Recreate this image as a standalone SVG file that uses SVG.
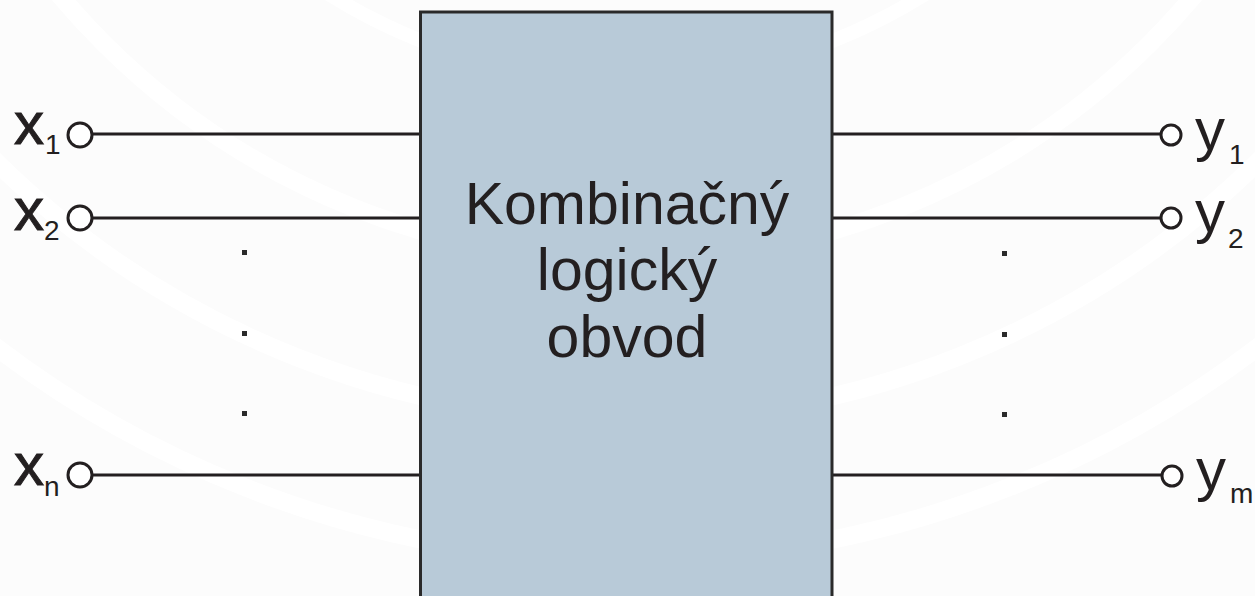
<svg xmlns="http://www.w3.org/2000/svg" width="1255" height="596" viewBox="0 0 1255 596">
<style>
.lbl{font-family:"Liberation Sans",Arial,sans-serif;fill:#231f20}
.main{font-size:59px;text-anchor:middle}
.var{font-size:60px}
.xv{stroke:#231f20;stroke-width:1}
.sub{font-size:28px}
.wire{stroke:#231f20;stroke-width:3;fill:none}
.term{stroke:#231f20;stroke-width:3;fill:#ffffff}
.dot{fill:#2a2a2a}
.bg{fill:none;stroke:#ffffff}
</style>
<rect x="0" y="0" width="1255" height="596" fill="#fcfcfc"/>
<g id="background">
<circle class="bg" cx="627" cy="-480" r="560" stroke-width="14"/>
<circle class="bg" cx="627" cy="-480" r="740" stroke-width="18"/>
<circle class="bg" cx="627" cy="-480" r="900" stroke-width="18"/>
<circle class="bg" cx="627" cy="-480" r="1040" stroke-width="18"/>
</g>
<g id="connectors">
<line class="wire" x1="93" y1="134" x2="420" y2="134"/>
<line class="wire" x1="93" y1="218" x2="420" y2="218"/>
<line class="wire" x1="93" y1="475" x2="420" y2="475"/>
<line class="wire" x1="833" y1="134" x2="1161" y2="134"/>
<line class="wire" x1="833" y1="218" x2="1161" y2="218"/>
<line class="wire" x1="833" y1="475" x2="1161" y2="475"/>
</g>
<g id="block">
<rect x="420.5" y="12" width="411.5" height="600" fill="#b8cad8" stroke="#2a2a2a" stroke-width="3"/>
<text class="lbl main" x="627" y="224">Kombinačný</text>
<text class="lbl main" x="627" y="290">logický</text>
<text class="lbl main" x="627" y="357">obvod</text>
</g>
<g id="input-x1">
<circle class="term" cx="80" cy="135" r="12"/>
<text class="lbl var xv" x="14" y="144">x</text>
<text class="lbl sub" x="45" y="154">1</text>
</g>
<g id="input-x2">
<circle class="term" cx="80" cy="218" r="12"/>
<text class="lbl var xv" x="14" y="230">x</text>
<text class="lbl sub" x="44" y="240">2</text>
</g>
<g id="input-xn">
<circle class="term" cx="80" cy="475" r="12"/>
<text class="lbl var xv" x="14" y="485">x</text>
<text class="lbl sub" x="44" y="496">n</text>
</g>
<g id="output-y1">
<circle class="term" cx="1171" cy="135" r="10"/>
<text class="lbl var" x="1195" y="150">y</text>
<text class="lbl sub" x="1229" y="164">1</text>
</g>
<g id="output-y2">
<circle class="term" cx="1171" cy="218" r="10"/>
<text class="lbl var" x="1195" y="232">y</text>
<text class="lbl sub" x="1228" y="248">2</text>
</g>
<g id="output-ym">
<circle class="term" cx="1172" cy="476" r="10"/>
<text class="lbl var" x="1196" y="490">y</text>
<text class="lbl sub" x="1230" y="503">m</text>
</g>
<g id="ellipsis-left">
<rect class="dot" x="242" y="250" width="5" height="5"/>
<rect class="dot" x="242" y="331" width="5" height="5"/>
<rect class="dot" x="242" y="411" width="5" height="5"/>
</g>
<g id="ellipsis-right">
<rect class="dot" x="1002" y="251" width="5" height="5"/>
<rect class="dot" x="1002" y="332" width="5" height="5"/>
<rect class="dot" x="1002" y="412" width="5" height="5"/>
</g>
</svg>
